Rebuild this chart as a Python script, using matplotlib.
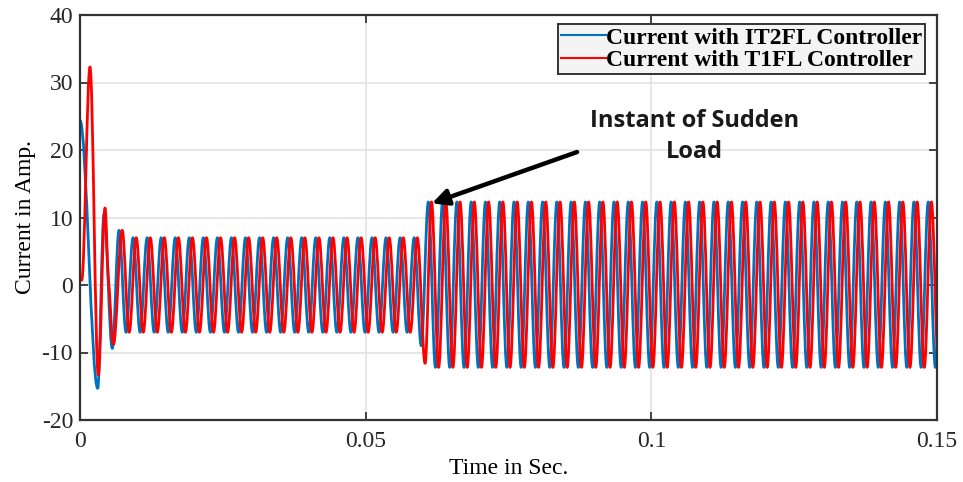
import matplotlib
matplotlib.use('Agg')
import matplotlib.pyplot as plt
from matplotlib.path import Path
from matplotlib.patches import PathPatch
from matplotlib.lines import Line2D
import numpy as np

plt.rcParams['font.family'] = ['Liberation Serif', 'DejaVu Serif']
plt.rcParams['axes.unicode_minus'] = False

# --- values (extrema of each current, in A, at times in s) ---
# start-up transient, listed one extremum at a time
blue_tr_t = [0.0, 0.0031, 0.0042, 0.00565]
blue_tr_v = [24.4, -15.3, 10.5, -9.4]
red_tr_t = [0.0003, 0.00175, 0.0032, 0.00438, 0.00495, 0.00585]
red_tr_v = [0.7, 32.3, -13.3, 11.4, 1.2, -8.8]

# steady state before the load step: first peak, period and peak/trough levels
pre_first_peak = 0.00683
pre_period = 0.00246
pre_peaks = [8.1] + [7.0] * 21
pre_troughs = [-7.0] * 21

# instant of the load step (trough between the two regimes)
blue_step = (0.05973, -9.0)
red_step = (0.0604, -11.6)

# steady state after the load step
post_first_peak = 0.06097
post_period = 0.0025
post_peaks = [12.3] * 37
post_troughs = [-12.2] * 36

red_lag = 0.00055   # red trace trails the blue one

def extrema(first, period, peaks, troughs):
    t, v = [], []
    for k, p in enumerate(peaks):
        t.append(first + k * period)
        v.append(p)
        if k < len(troughs):
            t.append(first + (k + 0.5) * period)
            v.append(troughs[k])
    return t, v

bt_pre, bv_pre = extrema(pre_first_peak, pre_period, pre_peaks, pre_troughs)
bt_post, bv_post = extrema(post_first_peak, post_period, post_peaks, post_troughs)
blue_t = blue_tr_t + bt_pre + [blue_step[0]] + bt_post
blue_v = blue_tr_v + bv_pre + [blue_step[1]] + bv_post

rt_pre, rv_pre = extrema(pre_first_peak + red_lag, pre_period, pre_peaks, pre_troughs)
rt_post, rv_post = extrema(post_first_peak + red_lag, post_period, post_peaks, post_troughs)
red_t = red_tr_t + rt_pre + [red_step[0]] + rt_post
red_v = red_tr_v + rv_pre + [red_step[1]] + rv_post


def wave_path(t, v):
    # smooth bezier through the extrema, flat at peaks and troughs
    n = len(t)
    slope = []
    for i in range(n):
        if 0 < i < n - 1 and (v[i] - v[i-1]) * (v[i+1] - v[i]) > 0:
            slope.append((v[i+1] - v[i-1]) / (t[i+1] - t[i-1]) * 0.6)
        else:
            slope.append(0.0)
    verts = [(t[0], v[0])]
    codes = [Path.MOVETO]
    a = 0.36
    for i in range(n - 1):
        d = t[i+1] - t[i]
        verts += [(t[i] + a*d, v[i] + slope[i]*a*d),
                  (t[i+1] - a*d, v[i+1] - slope[i+1]*a*d),
                  (t[i+1], v[i+1])]
        codes += [Path.CURVE4] * 3
    return Path(verts, codes)


fig = plt.figure(figsize=(9.63, 4.82), dpi=100)
ax = fig.add_axes([80/963, 1-420/482, 857/963, 405/482])

blue_c = '#0072BD'
red_c = '#FF0000'
ax.add_patch(PathPatch(wave_path(blue_t, blue_v), fill=False, edgecolor=blue_c,
                       lw=2.0, capstyle='round', joinstyle='round'))
ax.add_patch(PathPatch(wave_path(red_t, red_v), fill=False, edgecolor=red_c,
                       lw=2.0, capstyle='round', joinstyle='round'))

ax.set_xlim(0, 0.15)
ax.set_ylim(-20, 40)
ax.set_xticks([0, 0.05, 0.1, 0.15])
ax.set_xticklabels(['0', '0.05', '0.1', '0.15'])
ax.set_yticks([-20, -10, 0, 10, 20, 30, 40])
ax.grid(True, color='#e3e3e3', lw=1.2)
ax.set_axisbelow(True)
ax.tick_params(direction='in', length=6, width=1.2, top=True, right=True,
               labelsize=17, colors='#262626')
ax.tick_params(axis='x', pad=8)
ax.tick_params(axis='y', pad=5)
for s in ax.spines.values():
    s.set_color('#333333')
    s.set_linewidth(1.6)

ax.set_xlabel('Time in Sec.', fontsize=17, labelpad=4)
ax.set_ylabel('Current in Amp.', fontsize=17, labelpad=4)

handles = [Line2D([], [], color=blue_c, lw=1.5), Line2D([], [], color=red_c, lw=1.5)]
labels = ['Current with IT2FL Controller', 'Current with T1FL Controller']
leg = ax.legend(handles, labels, loc='upper right', bbox_to_anchor=(0.986, 0.977),
                prop={'family': 'Liberation Serif', 'weight': 'bold', 'size': 17},
                handlelength=1.9, handletextpad=0.0, borderpad=0.12,
                labelspacing=0.05, borderaxespad=0, fancybox=False, framealpha=1)
leg.get_frame().set_edgecolor('#333333')
leg.get_frame().set_linewidth(1.4)
leg.get_frame().set_facecolor('#f4f4f4')

ax.annotate('', xy=(0.0616, 12.1), xytext=(0.087, 19.7),
            arrowprops=dict(arrowstyle='-|>', lw=3.2, color='black', mutation_scale=24,
                            shrinkA=0, shrinkB=0))
ax.text(0.1075, 22.0, 'Instant of Sudden\nLoad', ha='center', va='center',
        fontsize=17, fontweight='bold', family=['Open Sans', 'DejaVu Sans'],
        color='#1a1a1a', linespacing=1.4)

fig.savefig('out.png', dpi=100)
